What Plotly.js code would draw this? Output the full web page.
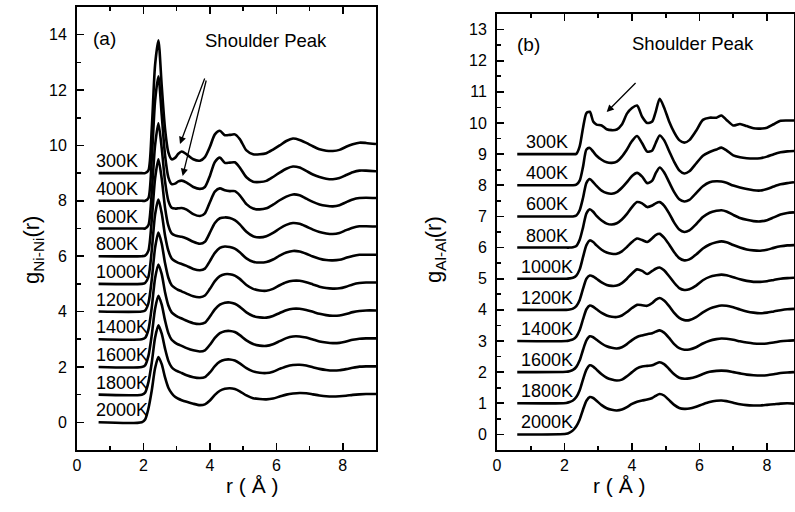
<!DOCTYPE html>
<html>
<head>
<meta charset="utf-8">
<script src="https://cdn.plot.ly/plotly-3.0.1.min.js"></script>
<style>html,body{margin:0;padding:0;background:#fff}#chart{width:795px;height:512px}</style>
</head>
<body>
<div id="chart"></div>
<script>
// ---- Data: panel (a) Ni-Ni pair distribution functions ----
const temps = ['300K','400K','600K','800K','1000K','1200K','1400K','1600K','1800K','2000K'];
const offsets = [9, 8, 7, 6, 5, 4, 3, 2, 1, 0];

const rA = [0.65,1.95,2.05,2.15,2.25,2.35,2.45,2.55,2.65,2.75,2.85,2.95,3.05,3.15,3.3,3.5,3.7,3.85,4.0,4.15,4.3,4.45,4.6,4.75,4.9,5.1,5.3,5.5,5.7,5.9,6.1,6.3,6.5,6.7,6.9,7.1,7.3,7.5,7.7,7.9,8.1,8.3,8.5,8.7,9.0];

const niNi300  = [0,0,0,0.1,1.6,3.9,4.8,3.15,1.6,0.75,0.5,0.55,0.7,0.78,0.68,0.5,0.45,0.58,0.95,1.4,1.53,1.37,1.38,1.4,1.23,0.82,0.68,0.68,0.72,0.85,1.0,1.16,1.25,1.2,1.09,0.97,0.86,0.81,0.8,0.84,0.95,1.04,1.1,1.09,1.05];
const niNi400  = [0,0,0,0.1,1.5,3.6,4.5,3.1,1.65,0.85,0.6,0.62,0.7,0.73,0.66,0.5,0.43,0.5,0.9,1.4,1.56,1.37,1.38,1.39,1.2,0.85,0.69,0.68,0.72,0.86,1.02,1.16,1.24,1.2,1.08,0.95,0.86,0.8,0.78,0.82,0.93,1.03,1.09,1.09,1.07];
const niNi600  = [0,0,0,0.12,1.3,3.0,3.8,2.9,1.7,1.0,0.75,0.72,0.73,0.74,0.68,0.52,0.45,0.55,0.95,1.33,1.45,1.38,1.35,1.35,1.2,0.88,0.72,0.69,0.73,0.86,1.02,1.15,1.23,1.2,1.08,0.96,0.87,0.82,0.8,0.84,0.95,1.05,1.1,1.11,1.1];
const niNi800  = [0,0,0.02,0.2,1.3,2.8,3.5,2.8,1.75,1.1,0.82,0.75,0.72,0.7,0.64,0.52,0.45,0.52,0.85,1.2,1.37,1.4,1.38,1.3,1.15,0.88,0.72,0.68,0.72,0.84,1.0,1.13,1.2,1.17,1.07,0.96,0.87,0.82,0.8,0.84,0.94,1.03,1.08,1.08,1.07];
const niNi1000 = [0,0,0.03,0.25,1.2,2.5,3.05,2.55,1.75,1.2,0.92,0.82,0.76,0.72,0.65,0.54,0.49,0.55,0.82,1.12,1.3,1.35,1.33,1.27,1.14,0.92,0.8,0.77,0.79,0.88,1.02,1.13,1.19,1.17,1.09,0.99,0.91,0.86,0.85,0.87,0.94,1.01,1.05,1.05,1.05];
const niNi1200 = [0,0,0.04,0.3,1.15,2.3,2.85,2.45,1.75,1.22,0.95,0.85,0.78,0.73,0.65,0.55,0.52,0.58,0.82,1.1,1.28,1.35,1.35,1.3,1.18,0.96,0.82,0.76,0.75,0.82,0.95,1.06,1.11,1.11,1.06,0.98,0.9,0.85,0.83,0.84,0.9,0.98,1.03,1.05,1.05];
const niNi1400 = [0,0,0.05,0.35,1.15,2.2,2.7,2.35,1.7,1.22,0.97,0.87,0.8,0.75,0.67,0.58,0.55,0.6,0.82,1.08,1.25,1.32,1.33,1.28,1.17,0.97,0.84,0.79,0.78,0.84,0.95,1.05,1.1,1.1,1.06,0.99,0.92,0.87,0.85,0.86,0.91,0.98,1.02,1.04,1.04];
const niNi1600 = [0,0,0.06,0.4,1.15,2.1,2.57,2.25,1.68,1.22,0.98,0.88,0.81,0.76,0.68,0.6,0.56,0.6,0.8,1.05,1.22,1.29,1.3,1.26,1.15,0.96,0.83,0.77,0.76,0.82,0.93,1.04,1.1,1.1,1.06,0.99,0.92,0.88,0.86,0.87,0.92,0.98,1.02,1.03,1.03];
const niNi1800 = [0,0,0.07,0.45,1.15,2.05,2.5,2.2,1.66,1.22,0.99,0.89,0.83,0.78,0.7,0.63,0.6,0.63,0.8,1.03,1.19,1.26,1.27,1.23,1.13,0.96,0.84,0.79,0.78,0.83,0.93,1.02,1.07,1.08,1.05,0.99,0.93,0.89,0.87,0.88,0.92,0.97,1.01,1.02,1.02];
const niNi2000 = [0,0,0.1,0.5,1.15,1.95,2.36,2.1,1.62,1.25,1.05,0.92,0.85,0.8,0.74,0.67,0.62,0.65,0.79,0.99,1.14,1.21,1.23,1.2,1.12,0.97,0.87,0.84,0.83,0.86,0.93,1.0,1.04,1.06,1.05,1.01,0.97,0.94,0.93,0.94,0.96,0.99,1.01,1.02,1.02];

// ---- Data: panel (b) Al-Al pair distribution functions ----
const rB = [0.6,2.05,2.15,2.25,2.35,2.45,2.55,2.65,2.75,2.85,2.95,3.1,3.25,3.4,3.55,3.7,3.85,4.0,4.15,4.3,4.45,4.6,4.7,4.82,4.95,5.1,5.25,5.4,5.55,5.7,5.9,6.1,6.3,6.5,6.65,6.8,7.0,7.2,7.4,7.6,7.8,8.0,8.2,8.4,8.6,8.8];

const alAl300  = [0,0,0,0,0.01,0.25,0.85,1.32,1.36,1.05,0.95,0.92,0.8,0.77,0.79,0.95,1.3,1.48,1.56,1.2,1.0,1.05,1.35,1.78,1.5,1.05,0.7,0.45,0.37,0.45,0.75,1.1,1.17,1.17,1.24,1.1,0.92,0.97,0.9,0.83,0.82,0.85,0.96,1.07,1.08,1.08];
const alAl400  = [0,0,0,0,0.02,0.15,0.6,1.15,1.2,1.08,0.95,0.82,0.74,0.72,0.76,0.92,1.15,1.42,1.58,1.35,1.08,1.12,1.35,1.6,1.45,1.1,0.75,0.48,0.38,0.45,0.7,0.95,1.07,1.15,1.21,1.12,0.96,0.9,0.87,0.86,0.87,0.92,1.0,1.06,1.09,1.1];
const alAl600  = [0,0,0,0,0.03,0.2,0.6,1.08,1.2,1.1,0.98,0.83,0.75,0.73,0.78,0.92,1.1,1.3,1.4,1.28,1.07,1.15,1.38,1.57,1.42,1.1,0.78,0.55,0.48,0.53,0.75,0.97,1.1,1.13,1.12,1.08,0.99,0.93,0.88,0.84,0.83,0.88,0.96,1.03,1.07,1.1];
const alAl800  = [0,0,0,0.01,0.05,0.25,0.65,1.1,1.23,1.15,1.02,0.87,0.77,0.74,0.78,0.9,1.08,1.3,1.46,1.42,1.3,1.35,1.42,1.46,1.35,1.1,0.8,0.58,0.5,0.55,0.75,0.98,1.12,1.18,1.2,1.16,1.05,0.95,0.89,0.85,0.84,0.88,0.97,1.06,1.11,1.13];
const alAl1000 = [0,0,0.01,0.03,0.1,0.3,0.7,1.08,1.23,1.18,1.07,0.93,0.84,0.8,0.8,0.88,1.02,1.18,1.29,1.24,1.18,1.3,1.4,1.44,1.32,1.1,0.85,0.66,0.59,0.62,0.78,0.97,1.1,1.17,1.2,1.17,1.08,1.0,0.94,0.91,0.9,0.93,0.99,1.04,1.07,1.08];
const alAl1200 = [0,0,0.01,0.04,0.12,0.32,0.68,1.0,1.1,1.07,1.0,0.88,0.8,0.77,0.78,0.86,1.0,1.17,1.3,1.25,1.15,1.25,1.32,1.36,1.27,1.08,0.87,0.7,0.64,0.66,0.78,0.95,1.06,1.11,1.13,1.11,1.05,0.98,0.93,0.9,0.9,0.92,0.96,1.0,1.02,1.03];
const alAl1400 = [0,0,0.02,0.05,0.14,0.35,0.7,1.02,1.14,1.1,1.02,0.9,0.82,0.78,0.77,0.82,0.93,1.06,1.16,1.15,1.13,1.22,1.32,1.38,1.3,1.12,0.9,0.74,0.67,0.67,0.77,0.92,1.04,1.11,1.14,1.13,1.08,1.01,0.95,0.91,0.89,0.91,0.95,0.99,1.02,1.03];
const alAl1600 = [0,0.01,0.03,0.07,0.17,0.38,0.72,1.02,1.15,1.12,1.04,0.92,0.83,0.78,0.76,0.8,0.9,1.03,1.13,1.18,1.22,1.25,1.3,1.34,1.27,1.1,0.9,0.77,0.72,0.73,0.8,0.92,1.01,1.06,1.08,1.07,1.04,0.99,0.95,0.92,0.91,0.92,0.95,0.99,1.01,1.02];
const alAl1800 = [0,0.01,0.04,0.09,0.2,0.42,0.77,1.08,1.22,1.18,1.08,0.93,0.82,0.76,0.73,0.76,0.87,1.0,1.12,1.18,1.2,1.22,1.27,1.32,1.26,1.1,0.93,0.82,0.79,0.8,0.85,0.94,1.01,1.04,1.05,1.04,1.0,0.96,0.92,0.9,0.89,0.9,0.93,0.97,0.99,1.0];
const alAl2000 = [0,0.02,0.06,0.13,0.26,0.48,0.8,1.08,1.2,1.17,1.08,0.94,0.84,0.79,0.77,0.8,0.88,0.98,1.05,1.09,1.12,1.17,1.24,1.3,1.25,1.1,0.95,0.85,0.82,0.83,0.89,0.97,1.04,1.08,1.09,1.07,1.02,0.97,0.94,0.93,0.93,0.95,0.97,0.99,1.0,0.99];

const niNiSeries = [niNi300,niNi400,niNi600,niNi800,niNi1000,niNi1200,niNi1400,niNi1600,niNi1800,niNi2000];
const alAlSeries = [alAl300,alAl400,alAl600,alAl800,alAl1000,alAl1200,alAl1400,alAl1600,alAl1800,alAl2000];

// ---- Build traces ----
const lineStyle = {color: '#000', width: 2.6, shape: 'spline', smoothing: 0.7};
const traces = [];
niNiSeries.forEach((g, i) => {
  traces.push({x: rA, y: g.map(v => v + offsets[i]), xaxis: 'x', yaxis: 'y', type: 'scatter', mode: 'lines', line: lineStyle, name: temps[i], showlegend: false, hoverinfo: 'skip'});
});
alAlSeries.forEach((g, i) => {
  traces.push({x: rB, y: g.map(v => v + offsets[i]), xaxis: 'x2', yaxis: 'y2', type: 'scatter', mode: 'lines', line: lineStyle, name: temps[i], showlegend: false, hoverinfo: 'skip'});
});

const FONT = 'Liberation Sans, Arial, sans-serif';
const W = 795, H = 512;

function xAxis(domain, range, anchor) {
  return {domain: domain, range: range, anchor: anchor, showgrid: false, zeroline: false,
    showline: true, linecolor: '#000', linewidth: 2, mirror: 'allticks',
    ticks: 'inside', ticklen: 7, tickwidth: 1.6, tickcolor: '#000', dtick: 2, tick0: 0,
    minor: {ticks: 'inside', ticklen: 4, tickwidth: 1.6, tickcolor: '#000', dtick: 1, showgrid: false},
    tickfont: {family: FONT, size: 16, color: '#000'}, fixedrange: true};
}
function yAxis(domain, range, anchor, dtick) {
  return {domain: domain, range: range, anchor: anchor, showgrid: false, zeroline: false,
    showline: true, linecolor: '#000', linewidth: 2, mirror: true,
    ticks: 'inside', ticklen: 7, tickwidth: 1.6, tickcolor: '#000', dtick: dtick, tick0: 0,
    minor: {ticks: 'inside', ticklen: 4, tickwidth: 1.6, tickcolor: '#000', dtick: dtick / 2, showgrid: false},
    tickfont: {family: FONT, size: 16, color: '#000'}, ticklabelstandoff: 5, fixedrange: true};
}

const annotations = [];
// temperature labels
temps.forEach((t, i) => {
  annotations.push({xref: 'x', yref: 'y', x: 0.5, y: offsets[i], text: t, showarrow: false,
    xanchor: 'left', yanchor: 'bottom', font: {family: FONT, size: 18, color: '#000'}});
  annotations.push({xref: 'x2', yref: 'y2', x: 1.49, y: offsets[i], text: t, showarrow: false,
    xanchor: 'center', yanchor: 'bottom', font: {family: FONT, size: 18, color: '#000'}});
});
// panel labels and text
annotations.push({xref: 'x', yref: 'y', x: 0.84, y: 13.85, text: '(a)', showarrow: false, font: {family: FONT, size: 19, color: '#000'}});
annotations.push({xref: 'x2', yref: 'y2', x: 0.93, y: 12.52, text: '(b)', showarrow: false, font: {family: FONT, size: 19, color: '#000'}});
annotations.push({xref: 'x', yref: 'y', x: 5.69, y: 13.78, text: 'Shoulder Peak', showarrow: false, font: {family: FONT, size: 18.5, color: '#000'}});
annotations.push({xref: 'x2', yref: 'y2', x: 5.81, y: 12.55, text: 'Shoulder Peak', showarrow: false, font: {family: FONT, size: 18.5, color: '#000'}});
// arrows
const arrowStyle = {showarrow: true, arrowhead: 2, arrowsize: 1.1, arrowwidth: 1.3, arrowcolor: '#000', text: ''};
annotations.push(Object.assign({xref: 'x', yref: 'y', axref: 'x', ayref: 'y', x: 3.10, y: 10.05, ax: 3.86, ay: 12.47}, arrowStyle));
annotations.push(Object.assign({xref: 'x', yref: 'y', axref: 'x', ayref: 'y', x: 3.18, y: 8.90, ax: 3.90, ay: 12.40}, arrowStyle));
annotations.push(Object.assign({xref: 'x2', yref: 'y2', axref: 'x2', ayref: 'y2', x: 3.25, y: 10.35, ax: 4.15, ay: 11.33}, arrowStyle));
// axis titles
annotations.push({xref: 'paper', yref: 'paper', x: 224 / W, y: 1 - 499 / H, text: 'r ( Å )', showarrow: false, font: {family: FONT, size: 21, color: '#000'}});
annotations.push({xref: 'paper', yref: 'paper', x: 648 / W, y: 1 - 499 / H, text: 'r ( Å )', showarrow: false, font: {family: FONT, size: 21, color: '#000'}});
annotations.push({xref: 'paper', yref: 'paper', x: 17 / W, y: 1 - 250 / H, text: 'g<sub>Ni-Ni</sub>(r)', textangle: -90, showarrow: false, font: {family: FONT, size: 22, color: '#000'}});
annotations.push({xref: 'paper', yref: 'paper', x: 435 / W, y: 1 - 250 / H, text: 'g<sub>Al-Al</sub>(r)', textangle: -90, showarrow: false, font: {family: FONT, size: 22, color: '#000'}});

const layout = {
  width: W, height: H,
  margin: {l: 0, r: 0, t: 0, b: 0},
  paper_bgcolor: '#fff', plot_bgcolor: '#fff',
  showlegend: false,
  xaxis: xAxis([77 / W, 376 / W], [0, 9], 'y'),
  yaxis: yAxis([1 - 450 / H, 1 - 7 / H], [-1, 15], 'x', 2),
  xaxis2: xAxis([497 / W, 794 / W], [0, 8.8], 'y2'),
  yaxis2: yAxis([1 - 450 / H, 1 - 14 / H], [-0.5, 13.5], 'x2', 1),
  annotations: annotations,
  font: {family: FONT, color: '#000'}
};

Plotly.newPlot('chart', traces, layout, {staticPlot: true, displayModeBar: false});
</script>
</body>
</html>
